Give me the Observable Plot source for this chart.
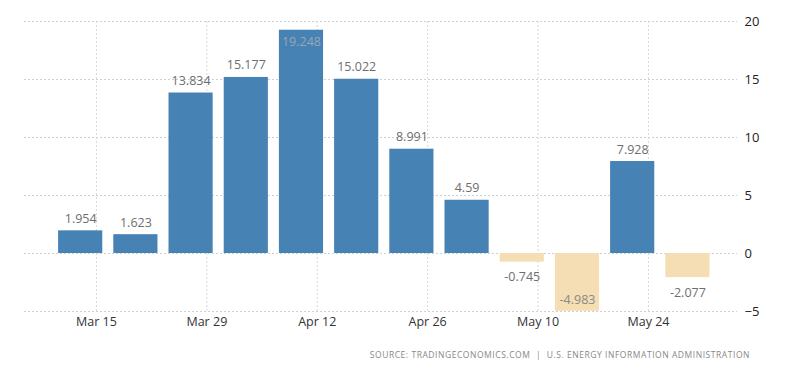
<!DOCTYPE html>
<html><head><meta charset="utf-8">
<script src="https://cdn.jsdelivr.net/npm/d3@7"></script>
<script src="https://cdn.jsdelivr.net/npm/@observablehq/plot@0.6"></script>
<style>
body{margin:0;background:#fff;font-family:"Open Sans",sans-serif;}
#cap{font-size:8.5px;letter-spacing:0.55px;color:#888;text-align:right;padding-right:50px;margin-top:9px;white-space:nowrap;}
</style></head><body>
<div id="chart"></div>
<div id="cap">SOURCE: TRADINGECONOMICS.COM &nbsp;|&nbsp; U.S. ENERGY INFORMATION ADMINISTRATION</div>
<script>
const dates = ["2020-03-13","2020-03-20","2020-03-27","2020-04-03","2020-04-10","2020-04-17","2020-04-24","2020-05-01","2020-05-08","2020-05-15","2020-05-22","2020-05-29"];
const values = [1.954, 1.623, 13.834, 15.177, 19.248, 15.022, 8.991, 4.59, -0.745, -4.983, 7.928, -2.077];
const labels = ["1.954","1.623","13.834","15.177","19.248","15.022","8.991","4.59","-0.745","-4.983","7.928","-2.077"];
const xTickLabels = ["2020-03-15","2020-03-29","2020-04-12","2020-04-26","2020-05-10","2020-05-24"];
const yTicks = [-5, 0, 5, 10, 15, 20];
const yDomain = [-5, 20];
const xDomain = ["2020-03-05T21:00Z", "2020-06-04T07:00Z"];

const data = dates.map((d, i) => ({date: new Date(d), value: values[i], label: labels[i]}));
const xTicks = xTickLabels.map(d => new Date(d));
const halfWidth = 2.8 * 864e5;
const isInside = d => d.value > yDomain[1] - 1.5 || d.value < yDomain[0] + 1.5;

const chart = Plot.plot({
  width: 800, height: 340,
  marginLeft: 24, marginRight: 63, marginTop: 21, marginBottom: 29,
  style: {fontFamily: "'Open Sans', sans-serif", background: "#fff"},
  x: {type: "utc", domain: xDomain.map(d => new Date(d)), ticks: xTicks, tickFormat: d3.utcFormat("%b %-d"), tickSize: 0, tickPadding: 6, label: null},
  y: {domain: yDomain, ticks: yTicks, label: null, axis: null},
  marks: [
    Plot.gridY(yTicks, {stroke: "#d0d0d0", strokeOpacity: 1, strokeDasharray: "2,2"}),
    Plot.gridX(xTicks, {stroke: "#d8d8d8", strokeOpacity: 1, strokeDasharray: "2,2"}),
    Plot.rectY(data.filter(d => d.value >= 0), {x1: d => new Date(+d.date - halfWidth), x2: d => new Date(+d.date + halfWidth), y: "value", fill: "#4682b4"}),
    Plot.rectY(data.filter(d => d.value < 0), {x1: d => new Date(+d.date - halfWidth), x2: d => new Date(+d.date + halfWidth), y: "value", fill: "#f5deb3"}),
    Plot.text(data.filter(d => d.value >= 0 && !isInside(d)), {x: "date", y: "value", text: "label", dy: -12, fontSize: 12.5, fill: "#6e6e6e"}),
    Plot.text(data.filter(d => d.value < 0 && !isInside(d)), {x: "date", y: "value", text: "label", dy: 15, fontSize: 12.5, fill: "#6e6e6e"}),
    Plot.text(data.filter(d => d.value >= 0 && isInside(d)), {x: "date", y: "value", text: "label", dy: 12, fontSize: 12.5, fill: "#9aa6b4"}),
    Plot.text(data.filter(d => d.value < 0 && isInside(d)), {x: "date", y: "value", text: "label", dy: -11, fontSize: 12.5, fill: "#8a8a8a"}),
    Plot.axisY(yTicks, {anchor: "right", tickSize: 0, tickPadding: 7, fontSize: 13, color: "#222", label: null}),
    Plot.axisX(xTicks, {anchor: "bottom", tickSize: 0, tickPadding: 6, fontSize: 12.5, color: "#333", tickFormat: d3.utcFormat("%b %-d"), label: null})
  ]
});
document.getElementById("chart").appendChild(chart);
</script>
</body></html>
